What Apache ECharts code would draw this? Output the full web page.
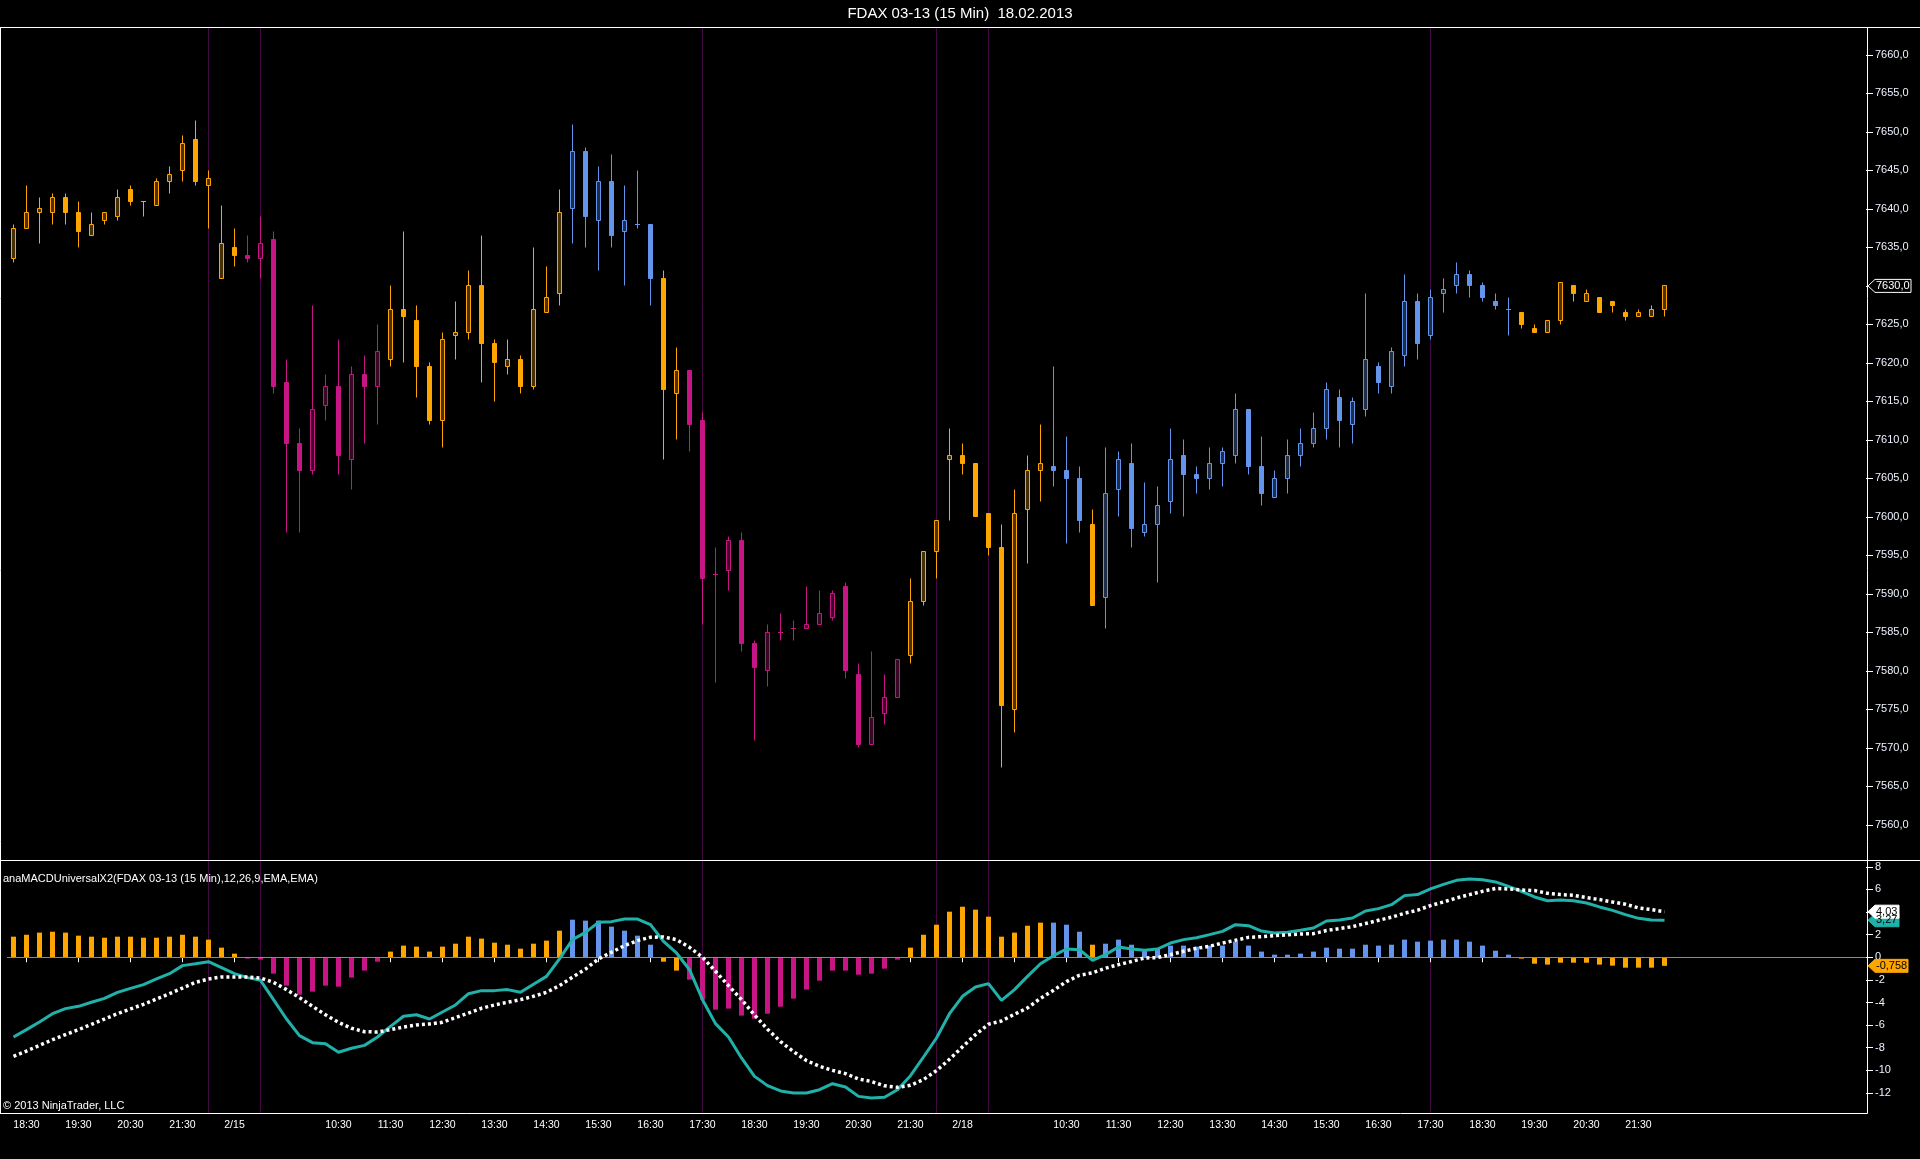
<!DOCTYPE html>
<html><head><meta charset="utf-8">
<script src="https://cdn.jsdelivr.net/npm/echarts@6/dist/echarts.min.js"></script>
<style>html,body{margin:0;padding:0;background:#000;}#c{width:1920px;height:1159px;}</style>
</head><body><div id="c"></div>
<script>
// ---------- DATA ----------
const title = 'FDAX 03-13 (15 Min)  18.02.2013';
const indicatorName = 'anaMACDUniversalX2(FDAX 03-13 (15 Min),12,26,9,EMA,EMA)';
const copyright = '\u00A9 2013 NinjaTrader, LLC';

const day1Times = ['18:15','18:30','18:45','19:00','19:15','19:30','19:45','20:00','20:15','20:30','20:45','21:00','21:15','21:30','21:45','22:00'];
const sessionTimes = ['08:15','08:30','08:45','09:00','09:15','09:30','09:45','10:00','10:15','10:30','10:45','11:00','11:15','11:30','11:45','12:00','12:15','12:30','12:45','13:00','13:15','13:30','13:45','14:00','14:15','14:30','14:45','15:00','15:15','15:30','15:45','16:00','16:15','16:30','16:45','17:00','17:15','17:30','17:45','18:00','18:15','18:30','18:45','19:00','19:15','19:30','19:45','20:00','20:15','20:30','20:45','21:00','21:15','21:30','21:45','22:00'];
const sessionDates = ['2/14','2/15','2/18'];
const markerTimes = ['2/14 22:00','2/15 09:00','2/15 17:30','2/15 22:00','2/18 09:00','2/18 17:30'];

const open = [7633.5,7637.5,7639.5,7639.5,7641.5,7639.5,7636.5,7638.5,7639,7642.5,
7641,7640.5,7643.5,7645,7649,7643,7631,7635,7634,7633.5,
7636,7617.5,7609.5,7606,7614.5,7617,7607.5,7618.5,7617,7620.5,
7627,7625.5,7619.5,7612.5,7623.5,7624,7630,7622.5,7619.5,7620.5,
7617,7626.5,7629,7640,7647.5,7638.5,7643.5,7637,7638,7638,
7631,7616,7619,7612.5,7592.5,7593,7597,7583.5,7580,7585,
7585.5,7585.5,7586,7587,7591,7579.5,7570.5,7574.5,7576.5,7582,
7589,7595.5,7607.5,7608,7607,7600.5,7596,7575,7601,7606,
7606.5,7606,7605,7599,7589.5,7603.5,7607,7598,7599,7602,
7608,7605.5,7605,7607,7608,7614,7606.5,7602.5,7605,7608,
7609.5,7611.5,7615.5,7612,7614,7619.5,7617,7621,7628,7623.5,
7629,7630,7631.5,7630,7628,7627,7626.5,7624.5,7624,7625.5,
7630,7628,7628.5,7628,7626.5,7626,7626,7627];
const high = [7638,7643,7641.5,7642,7642,7641,7639.5,7639.5,7642.5,7643,
7641,7644,7645.5,7649.5,7651.5,7645,7640.5,7637.5,7636.5,7639,
7637,7620.5,7611.5,7627.5,7618.5,7623,7619.5,7621,7625,7630,
7637,7627.5,7620,7624,7628,7632,7636.5,7623,7623,7621,
7635,7632.5,7642.5,7651,7648,7645.5,7647,7643,7645,7638,
7632,7622,7619,7613.5,7596,7597.5,7598,7584,7586,7587.5,
7586.5,7591,7590.5,7590.5,7591.5,7581,7582.5,7579.5,7581.5,7592,
7595.5,7599.5,7611.5,7609.5,7607,7600.5,7599,7603.5,7608,7612,
7619.5,7610.5,7606.5,7601,7609,7608.5,7609.5,7604.5,7604,7611.5,
7610,7606.5,7609,7609,7616,7614,7610.5,7606,7610,7611.5,
7613.5,7617.5,7616.5,7615.5,7629,7620,7622,7631.5,7629,7629.5,
7631,7633,7632,7630.5,7629,7628.5,7626.5,7625,7625.5,7630.5,
7630,7629.5,7628.5,7628,7627,7627,7627.5,7630];
const low = [7633,7637.5,7635.5,7638,7638,7635,7636.5,7638,7638.5,7640.5,
7639,7640.5,7642,7643.5,7643,7637.5,7631,7632.5,7633,7631,
7616,7598,7598,7605.5,7612.5,7605.5,7603.5,7609.5,7612,7619.5,
7620,7615.5,7612,7609,7620.5,7623,7617.5,7615,7618.5,7616,
7616.5,7626.5,7627.5,7635.5,7635,7632,7635,7630,7637.5,7627.5,
7607.5,7610,7608.5,7586,7578.5,7590.5,7582.5,7571,7578,7584,
7584,7585.5,7586,7586.5,7579,7570,7570.5,7573,7576.5,7581,
7588.5,7592,7599.5,7605.5,7600,7595,7567.5,7572,7594,7602,
7604,7596.5,7598,7588.5,7585.5,7600,7596,7597.5,7591.5,7600.5,
7600,7603,7603.5,7604,7607,7605.5,7601.5,7602.5,7603,7606.5,
7609,7610,7609,7609.5,7613,7616,7616,7619.5,7620.5,7623,
7626.5,7629,7628.5,7628,7627,7623.5,7624.5,7624,7624,7625,
7628,7628,7626.5,7626.5,7625.5,7626,7626,7626];
const close = [7637.5,7639.5,7640,7641.5,7639.5,7637,7638,7639.5,7641.5,7641,
7641,7643.5,7644.5,7648.5,7643.5,7644,7635.5,7634,7633.5,7635.5,
7617,7609.5,7606,7614,7617,7608,7618.5,7617,7621.5,7627,
7626,7619.5,7612.5,7623,7624,7630,7622.5,7620,7620.5,7617,
7627,7628.5,7639.5,7647.5,7639,7643.5,7636.5,7638.5,7638,7631,
7616.5,7619,7612,7592,7592.5,7597,7583.5,7580.5,7585,7585,
7585.5,7586,7587.5,7590,7580,7570.5,7574,7576.5,7581.5,7589,
7595.5,7599.5,7608,7607,7600,7596,7575.5,7600.5,7606,7607,
7606,7605,7599.5,7588.5,7603,7607.5,7598.5,7599,7601.5,7607.5,
7605.5,7605,7607,7608.5,7614,7606.5,7603,7605,7608,7609.5,
7611.5,7616.5,7612.5,7615,7620.5,7617.5,7621.5,7628,7622.5,7628.5,
7629.5,7631.5,7630,7628.5,7627.5,7627,7625,7624,7625.5,7630.5,
7629,7629,7626.5,7627.5,7626,7626.5,7627,7630];

// bar colour state per bar, run-length: o = orange, m = magenta, b = blue
const trendRuns = [['o',18],['m',11],['o',14],['b',7],['o',2],['m',17],['o',11],['b',3],['o',1],['b',32],['o',12]];

const macd = [-7.05,-6.40,-5.72,-4.99,-4.54,-4.34,-3.98,-3.63,-3.10,-2.75,
-2.42,-1.92,-1.45,-0.74,-0.57,-0.39,-0.92,-1.45,-1.80,-2.04,
-3.75,-5.46,-6.93,-7.55,-7.64,-8.40,-8.05,-7.79,-7.05,-6.11,
-5.22,-5.08,-5.46,-4.84,-4.22,-3.22,-2.95,-2.95,-2.86,-3.10,
-2.39,-1.69,-0.15,1.56,2.20,3.09,3.15,3.38,3.38,2.88,
1.41,0.38,-1.10,-3.75,-5.87,-7.05,-8.90,-10.53,-11.35,-11.82,
-12.00,-12.00,-11.71,-11.18,-11.47,-12.30,-12.44,-12.38,-11.71,-10.47,
-8.82,-7.14,-4.99,-3.45,-2.63,-2.33,-3.81,-2.86,-1.69,-0.57,
0.14,0.73,0.67,-0.27,0.23,0.91,0.73,0.61,0.73,1.26,
1.56,1.73,2.00,2.29,2.88,2.79,2.32,2.15,2.21,2.38,
2.59,3.21,3.30,3.47,4.09,4.30,4.65,5.45,5.54,6.04,
6.45,6.80,6.92,6.86,6.66,6.27,5.83,5.33,5.00,5.06,
5.00,4.80,4.45,4.15,3.77,3.44,3.30,3.27];
const signal = [-8.76,-8.29,-7.79,-7.29,-6.84,-6.40,-5.93,-5.46,-4.99,-4.57,
-4.16,-3.69,-3.22,-2.72,-2.22,-1.92,-1.74,-1.74,-1.74,-1.83,
-2.22,-2.86,-3.57,-4.34,-5.08,-5.75,-6.28,-6.58,-6.61,-6.40,
-6.17,-5.99,-5.90,-5.75,-5.34,-4.93,-4.51,-4.22,-3.98,-3.75,
-3.45,-3.10,-2.51,-1.76,-1.04,-0.15,0.44,1.03,1.47,1.77,
1.80,1.56,0.88,0.00,-1.24,-2.51,-3.74,-5.10,-6.36,-7.45,
-8.34,-9.14,-9.64,-10.00,-10.29,-10.76,-10.99,-11.37,-11.50,-11.32,
-10.81,-10.02,-9.02,-7.92,-6.84,-5.92,-5.63,-5.04,-4.48,-3.63,
-2.92,-2.15,-1.59,-1.38,-0.97,-0.65,-0.38,-0.06,-0.03,0.23,
0.53,0.79,0.97,1.26,1.50,1.76,1.82,1.92,1.98,2.06,
2.09,2.36,2.54,2.71,2.98,3.27,3.54,3.89,4.16,4.57,
4.89,5.24,5.54,5.83,6.08,6.04,5.95,5.90,5.65,5.54,
5.48,5.28,5.10,4.89,4.69,4.36,4.22,4.03];
const hist = [1.82,1.99,2.18,2.26,2.18,1.91,1.82,1.73,1.82,1.82,
1.73,1.73,1.82,1.99,1.82,1.56,0.85,0.32,-0.12,-0.21,
-1.45,-2.51,-3.31,-3.04,-2.51,-2.60,-1.80,-1.18,-0.39,0.50,
1.03,0.94,0.50,0.94,1.20,1.82,1.65,1.29,1.11,0.76,
1.20,1.47,2.35,3.32,3.24,3.24,2.71,2.35,1.91,1.11,
-0.39,-1.18,-1.98,-3.75,-4.63,-4.54,-5.16,-5.43,-4.99,-4.37,
-3.66,-2.86,-2.07,-1.18,-1.18,-1.54,-1.45,-1.01,-0.21,0.85,
1.99,2.88,4.03,4.47,4.21,3.59,1.82,2.18,2.79,3.06,
3.06,2.88,2.26,1.11,1.20,1.56,1.11,0.67,0.76,1.03,
1.03,0.94,1.03,1.03,1.38,1.03,0.50,0.23,0.23,0.32,
0.50,0.85,0.76,0.76,1.11,1.03,1.11,1.56,1.38,1.47,
1.56,1.56,1.38,1.03,0.58,0.23,-0.12,-0.57,-0.65,-0.48,
-0.48,-0.48,-0.65,-0.74,-0.92,-0.92,-0.92,-0.758];

const priceTicks = [7560,7565,7570,7575,7580,7585,7590,7595,7600,7605,7610,7615,7620,7625,7630,7635,7640,7645,7650,7655,7660];
const macdTicks = [-12,-10,-8,-6,-4,-2,0,2,4,6,8];

// ---------- BUILD ----------
const FONT = '"Liberation Sans", Arial, Helvetica, sans-serif';
const KEYS = ['o', 'm', 'b'];
const COLORS = {o:'#FFA500', m:'#C71585', b:'#6495ED'};
const HOLLOW = {o:'#4a3000', m:'#3d0627', b:'#1e2d48'};
const TEAL = '#20B2AA';
const MARKER = '#420a40';

const trend = [];
trendRuns.forEach(([k, n]) => { for (let i = 0; i < n; i++) trend.push(k); });

const times = day1Times.map(t => sessionDates[0] + ' ' + t)
  .concat(sessionTimes.map(t => sessionDates[1] + ' ' + t), sessionTimes.map(t => sessionDates[2] + ' ' + t));
const PAD = 15;
const cats = times.concat(Array.from({length: PAD}, (_, i) => '_pad' + i));
const markerIdx = markerTimes.map(t => times.indexOf(t));

const candleData = times.map((t, i) => [i, open[i], close[i], low[i], high[i], KEYS.indexOf(trend[i])]);
const histData = hist.map((v, i) => ({value: v, itemStyle: {color: COLORS[trend[i]]}}));

const isHalf = (v) => typeof v === 'string' && v.endsWith(':30');
const xLabel = (v) => {
  const parts = String(v).split(' ');
  if (parts.length < 2) return '';
  const d = parts[0], t = parts[1];
  if (t === '08:30') return d;
  if (t.endsWith(':30') && t !== '09:30') return t;
  return '';
};
const priceFmt = (v) => v.toFixed(1).replace('.', ',');
const snap = (v) => Math.round(v - 0.5) + 0.5;

function renderCandle(params, api) {
  const idx = api.value(0);
  const o = api.value(1), c = api.value(2), l = api.value(3), h = api.value(4);
  const key = KEYS[api.value(5)];
  const col = COLORS[key];
  const pO = api.coord([idx, o]), pC = api.coord([idx, c]);
  const yH = snap(api.coord([idx, h])[1]), yL = snap(api.coord([idx, l])[1]);
  const x = snap(pO[0]);
  const yT = snap(Math.min(pO[1], pC[1])), yB = snap(Math.max(pO[1], pC[1]));
  const half = 2;
  const children = [
    {type: 'line', shape: {x1: x, y1: yH, x2: x, y2: yL}, style: {stroke: col, lineWidth: 1}}
  ];
  if (yB - yT < 0.5) {
    children.push({type: 'line', shape: {x1: x - half - 0.5, y1: yT, x2: x + half + 0.5, y2: yT}, style: {stroke: col, lineWidth: 1}});
  } else {
    children.push({type: 'rect', shape: {x: x - half, y: yT, width: half * 2, height: yB - yT},
      style: {fill: c > o ? HOLLOW[key] : col, stroke: col, lineWidth: 1}});
  }
  return {type: 'group', children: children};
}

const GL = 7, GW = 1859;
const chart = echarts.init(document.getElementById('c'), null, {renderer: 'canvas'});
const option = {
  backgroundColor: '#000',
  animation: false,
  grid: [
    {left: GL, top: 27, width: GW, height: 833},
    {left: GL, top: 860, width: GW, height: 253},
    {left: GL, top: 27, width: GW, height: 1086}
  ],
  xAxis: [
    {gridIndex: 0, type: 'category', data: cats, boundaryGap: true, show: false},
    {gridIndex: 1, type: 'category', data: cats, boundaryGap: true,
      axisLine: {show: false},
      axisTick: {show: true, alignWithLabel: true, length: 5, interval: (i, v) => isHalf(v), lineStyle: {color: '#fff', width: 1}},
      axisLabel: {show: true, interval: (i, v) => isHalf(v), formatter: xLabel, color: '#fff', fontFamily: FONT, fontSize: 10.5, margin: 7},
      splitLine: {show: false}},
    {gridIndex: 2, type: 'category', data: cats, boundaryGap: true, show: false}
  ],
  yAxis: [
    {gridIndex: 0, type: 'value', position: 'right', min: 7555.45, max: 7663.62, scale: true,
      axisLine: {show: false}, splitLine: {show: false},
      axisTick: {show: true, length: 7, customValues: priceTicks, lineStyle: {color: '#fff'}},
      axisLabel: {show: true, customValues: priceTicks, formatter: priceFmt, color: '#eef3ff', fontFamily: FONT, fontSize: 11, margin: 9}},
    {gridIndex: 1, type: 'value', position: 'right', min: -13.77, max: 8.6,
      axisLine: {show: false}, splitLine: {show: false},
      axisTick: {show: true, length: 7, customValues: macdTicks, lineStyle: {color: '#fff'}},
      axisLabel: {show: true, customValues: macdTicks, formatter: (v) => String(v), color: '#eef3ff', fontFamily: FONT, fontSize: 11, margin: 9}},
    {gridIndex: 2, type: 'value', min: 0, max: 1, show: false}
  ],
  series: [
    {type: 'custom', name: 'markers', xAxisIndex: 2, yAxisIndex: 2, z: 0, silent: true, clip: false,
      data: markerIdx.map(i => [i, 0]), encode: {x: 0, y: 1},
      renderItem: (params, api) => {
        const x = snap(api.coord([api.value(0), 0])[0]);
        const cs = params.coordSys;
        return {type: 'line', shape: {x1: x, y1: cs.y, x2: x, y2: cs.y + cs.height}, style: {stroke: MARKER, lineWidth: 1}};
      }},
    {type: 'custom', name: 'FDAX', xAxisIndex: 0, yAxisIndex: 0, z: 3, silent: true,
      data: candleData, encode: {x: 0, y: [1, 2, 3, 4]}, renderItem: renderCandle},
    {type: 'bar', name: 'Diff', xAxisIndex: 1, yAxisIndex: 1, z: 3, barWidth: 5, silent: true,
      data: histData,
      markLine: {silent: true, symbol: ['none', 'none'], label: {show: false},
        lineStyle: {color: '#8a8a8a', width: 1, type: 'solid'}, data: [{yAxis: 0}]}},
    {type: 'line', name: 'MACD', xAxisIndex: 1, yAxisIndex: 1, z: 5, data: macd, symbol: 'none', silent: true,
      lineStyle: {color: TEAL, width: 3}},
    {type: 'line', name: 'Avg', xAxisIndex: 1, yAxisIndex: 1, z: 6, data: signal, symbol: 'none', silent: true,
      lineStyle: {color: '#ffffff', width: 3.5, type: [3, 3]}}
  ]
};
chart.setOption(option);

// ---------- frame, texts and value tags ----------
const n = times.length - 1;
const yPrice = chart.convertToPixel({yAxisIndex: 0}, close[n]);
const ySig = chart.convertToPixel({yAxisIndex: 1}, signal[n]);
const yMacd = chart.convertToPixel({yAxisIndex: 1}, macd[n]);
const yHist = chart.convertToPixel({yAxisIndex: 1}, hist[n]);

function tag(y, text, fill, stroke, textColor, w) {
  const x0 = 1868, x1 = 1875, h = 6.5;
  return [
    {type: 'polygon', z: 100, shape: {points: [[x0, y], [x1, y - h], [x1 + w, y - h], [x1 + w, y + h], [x1, y + h]]},
      style: {fill: fill, stroke: stroke, lineWidth: 1}},
    {type: 'text', z: 101, x: x1 + 1, y: y, style: {text: text, fill: textColor, font: '11px ' + FONT, verticalAlign: 'middle', align: 'left'}}
  ];
}
const line = (x1, y1, x2, y2) => ({type: 'line', z: 90, shape: {x1, y1, x2, y2}, style: {stroke: '#ffffff', lineWidth: 1}});

const graphics = [
  {type: 'text', z: 100, x: 960, y: 14, style: {text: title, fill: '#fff', font: '15px ' + FONT, align: 'center', verticalAlign: 'middle'}},
  {type: 'text', z: 100, x: 3, y: 879, style: {text: indicatorName, fill: '#fff', font: '11px ' + FONT, align: 'left', verticalAlign: 'middle'}},
  {type: 'text', z: 100, x: 3, y: 1106, style: {text: copyright, fill: '#fff', font: '11px ' + FONT, align: 'left', verticalAlign: 'middle'}},
  line(0, 27.5, 1920, 27.5),
  line(0, 860.5, 1920, 860.5),
  line(0, 1113.5, 1867.5, 1113.5),
  line(1867.5, 27, 1867.5, 1113.5),
  line(0.5, 27, 0.5, 1113.5)
].concat(
  tag(yPrice, priceFmt(close[n]), '#000', '#ffffff', '#ffffff', 36),
  tag(yMacd, macd[n].toFixed(2).replace('.', ','), TEAL, TEAL, '#000', 24),
  tag(ySig, signal[n].toFixed(2).replace('.', ','), '#ffffff', '#ffffff', '#000', 24),
  tag(yHist, hist[n].toFixed(3).replace('.', ','), '#FFA500', '#FFA500', '#000', 33)
);
chart.setOption({graphic: graphics});
</script>
</body></html>
